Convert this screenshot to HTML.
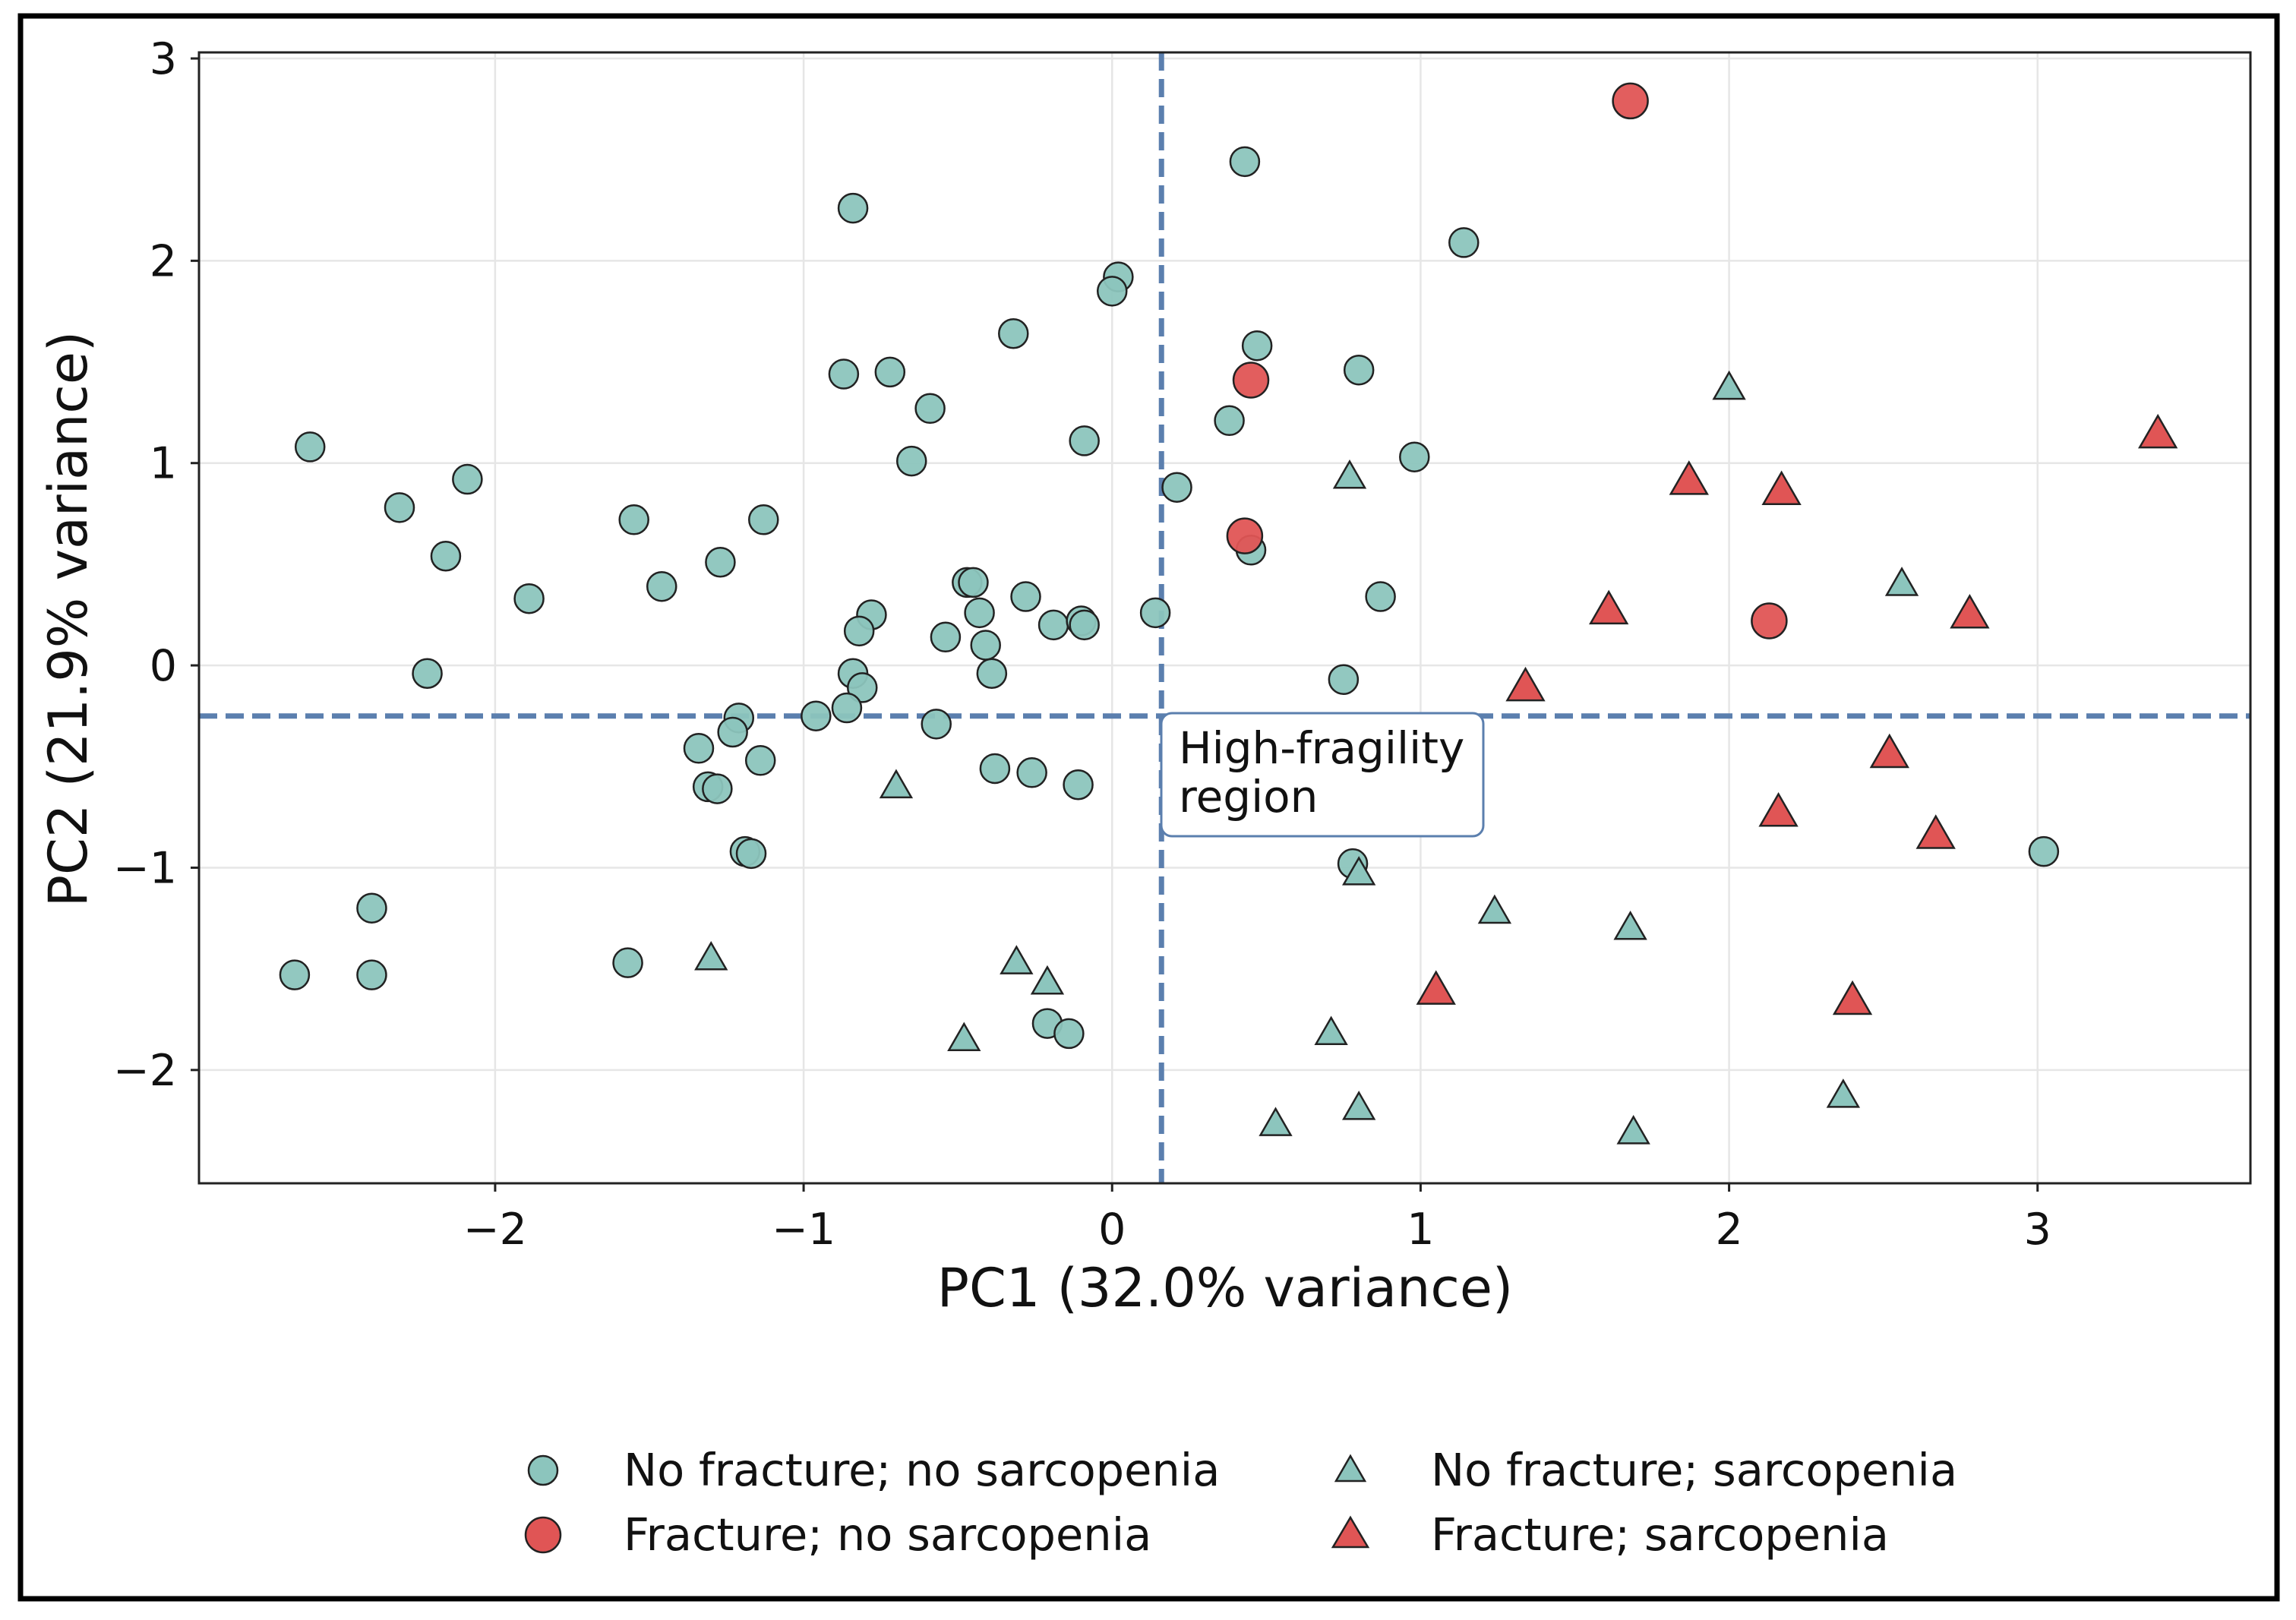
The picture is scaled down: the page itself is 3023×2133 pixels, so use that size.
<!DOCTYPE html>
<html><head><meta charset="utf-8"><style>
html,body{margin:0;padding:0;background:#fff}
svg{display:block;font-family:"DejaVu Sans","Liberation Sans",sans-serif}
</style></head><body>
<svg id="chart" width="3023" height="2133" viewBox="0 0 3023 2133" xmlns="http://www.w3.org/2000/svg">
<rect x="27" y="21" width="2971" height="2084" fill="#fff" stroke="#000" stroke-width="7"/>
<g id="grid"></g>
<g id="refs"></g>
<g id="marks"></g>
<rect x="262" y="69" width="2701" height="1489" fill="none" stroke="#222" stroke-width="3"/>
<g id="ticks"></g>
<g>
<rect x="1529" y="939" width="424" height="162" rx="14" fill="#fff" stroke="#5b7fae" stroke-width="3"/>
<text x="1552" y="1005" font-size="58" fill="#111">High-fragility</text>
<text x="1552" y="1069" font-size="58" fill="#111">region</text>
</g>
<text x="1613" y="1720" font-size="70" text-anchor="middle" fill="#111">PC1 (32.0% variance)</text>
<text transform="translate(114,815) rotate(-90)" font-size="70" text-anchor="middle" fill="#111">PC2 (21.9% variance)</text>
<g id="legend">
<g>
<circle cx="715" cy="1936" r="19" fill="#8cc5bd" stroke="#222" stroke-width="2.5"/>
<text x="821" y="1956" font-size="59" fill="#111">No fracture; no sarcopenia</text></g>
<g>
<circle cx="715" cy="2021" r="23" fill="#e05555" stroke="#222" stroke-width="2.5"/>
<text x="821" y="2041" font-size="59" fill="#111">Fracture; no sarcopenia</text></g>
<g>
<polygon points="1778,1917 1797,1950 1759,1950" fill="#8cc5bd" stroke="#222" stroke-width="2.5"/>
<text x="1884" y="1956" font-size="59" fill="#111">No fracture; sarcopenia</text></g>
<g>
<polygon points="1778,1998 1801,2037 1755,2037" fill="#e05555" stroke="#222" stroke-width="2.5"/>
<text x="1884" y="2041" font-size="59" fill="#111">Fracture; sarcopenia</text></g>
</g>
</svg>
<script>
const xTicks = [-2,-1,0,1,2,3];
const yTicks = [-2,-1,0,1,2,3];
const xTickLabels = ["\u22122","\u22121","0","1","2","3"];
const yTickLabels = ["\u22122","\u22121","0","1","2","3"];
const thresholdX = 0.16;
const thresholdY = -0.25;
const noFxNoSarcX = [-2.60,-2.31,-2.16,-2.09,-2.22,-1.89,-1.55,-1.46,-1.27,-1.13,-0.84,-0.87,-0.72,-0.59,-0.65,-0.32,0.02,0.0,-0.09,0.21,0.14,0.43,1.14,0.47,0.38,0.80,0.98,0.45,0.87,0.75,0.78,3.02,-0.78,-0.82,-0.47,-0.45,-0.43,-0.28,-0.54,-0.41,-0.39,-0.19,-0.10,-0.09,-0.84,-0.81,-0.96,-0.86,-0.57,-1.21,-1.23,-1.34,-1.14,-1.31,-1.28,-0.38,-0.26,-0.11,-1.19,-1.17,-2.40,-2.65,-2.40,-1.57,-0.21,-0.14];
const noFxNoSarcY = [1.08,0.78,0.54,0.92,-0.04,0.33,0.72,0.39,0.51,0.72,2.26,1.44,1.45,1.27,1.01,1.64,1.92,1.85,1.11,0.88,0.26,2.49,2.09,1.58,1.21,1.46,1.03,0.57,0.34,-0.07,-0.98,-0.92,0.25,0.17,0.41,0.41,0.26,0.34,0.14,0.10,-0.04,0.20,0.22,0.20,-0.04,-0.11,-0.25,-0.21,-0.29,-0.26,-0.33,-0.41,-0.47,-0.60,-0.61,-0.51,-0.53,-0.59,-0.92,-0.93,-1.20,-1.53,-1.53,-1.47,-1.77,-1.82];
const fxNoSarcX = [1.68,0.45,0.43,2.13];
const fxNoSarcY = [2.79,1.41,0.64,0.22];
const noFxSarcX = [-0.70,-1.30,-0.31,-0.21,-0.48,0.77,0.80,1.24,0.71,0.53,0.80,1.68,1.69,2.37,2.00,2.56];
const noFxSarcY = [-0.60,-1.45,-1.47,-1.57,-1.85,0.93,-1.03,-1.22,-1.82,-2.27,-2.19,-1.30,-2.31,-2.13,1.37,0.40];
const fxSarcX = [1.87,2.17,3.39,1.61,2.78,1.34,2.52,2.16,2.67,1.05,2.40];
const fxSarcY = [0.91,0.86,1.14,0.27,0.25,-0.11,-0.44,-0.73,-0.84,-1.61,-1.66];

const X0=262,X1=2963,Y0=69,Y1=1558;
const xMin=-2.96,xMax=3.69,yMin=-2.56,yMax=3.03;
function sx(v){return X0+(v-xMin)/(xMax-xMin)*(X1-X0);}
function sy(v){return Y1-(v-yMin)/(yMax-yMin)*(Y1-Y0);}
const NS="http://www.w3.org/2000/svg";
function mk(tag,attrs,parent){const e=document.createElementNS(NS,tag);for(const k in attrs)e.setAttribute(k,attrs[k]);parent.appendChild(e);return e;}
const grid=document.getElementById('grid'),ticks=document.getElementById('ticks'),marks=document.getElementById('marks'),refs=document.getElementById('refs');
xTicks.forEach((v,i)=>{
  const x=sx(v);
  const g=mk('line',{x1:x,x2:x,y1:Y0,y2:Y1,stroke:'#e6e6e6','stroke-width':2.5},grid);
  
  
  const t=mk('line',{x1:x,x2:x,y1:Y1,y2:Y1+11,stroke:'#222','stroke-width':3},ticks);
  
  
  const l=mk('text',{x:x,y:1638,'font-size':57,'text-anchor':'middle',fill:'#111'},ticks);
  l.textContent=xTickLabels[i];
  
  
});
yTicks.forEach((v,i)=>{
  const y=sy(v);
  const g=mk('line',{x1:X0,x2:X1,y1:y,y2:y,stroke:'#e6e6e6','stroke-width':2.5},grid);
  
  
  const t=mk('line',{x1:X0-11,x2:X0,y1:y,y2:y,stroke:'#222','stroke-width':3},ticks);
  
  
  const l=mk('text',{x:233,y:y+20,'font-size':57,'text-anchor':'end',fill:'#111'},ticks);
  l.textContent=yTickLabels[i];
  
  
});
const vl=mk('line',{x1:sx(thresholdX),x2:sx(thresholdX),y1:Y0,y2:Y1,stroke:'#5b7fae','stroke-width':7,'stroke-dasharray':'24,11'},refs);


const hl=mk('line',{x1:X0,x2:X1,y1:sy(thresholdY),y2:sy(thresholdY),stroke:'#5b7fae','stroke-width':7,'stroke-dasharray':'24,11'},refs);


function circles(xs,ys,r,fill,name){xs.forEach((v,i)=>{
  const c=mk('circle',{cx:sx(v),cy:sy(ys[i]),r:r,fill:fill,stroke:'#222','stroke-width':2.5,'fill-opacity':0.95},marks);
  
  
});}
function tris(xs,ys,s,fill,name){xs.forEach((v,i)=>{
  const x=sx(v),y=sy(ys[i]);const h=s*0.87;
  const p=mk('polygon',{points:`${x},${y-h*0.6} ${x+s/2},${y+h*0.4} ${x-s/2},${y+h*0.4}`,fill:fill,stroke:'#222','stroke-width':2.5},marks);
  
  
});}
circles(noFxNoSarcX,noFxNoSarcY,19,'#8cc5bd','point-no-fracture-no-sarcopenia');
tris(noFxSarcX,noFxSarcY,40,'#8cc5bd','point-no-fracture-sarcopenia');
circles(fxNoSarcX,fxNoSarcY,23,'#e05555','point-fracture-no-sarcopenia');
tris(fxSarcX,fxSarcY,48,'#e05555','point-fracture-sarcopenia');
</script>
</body></html>
